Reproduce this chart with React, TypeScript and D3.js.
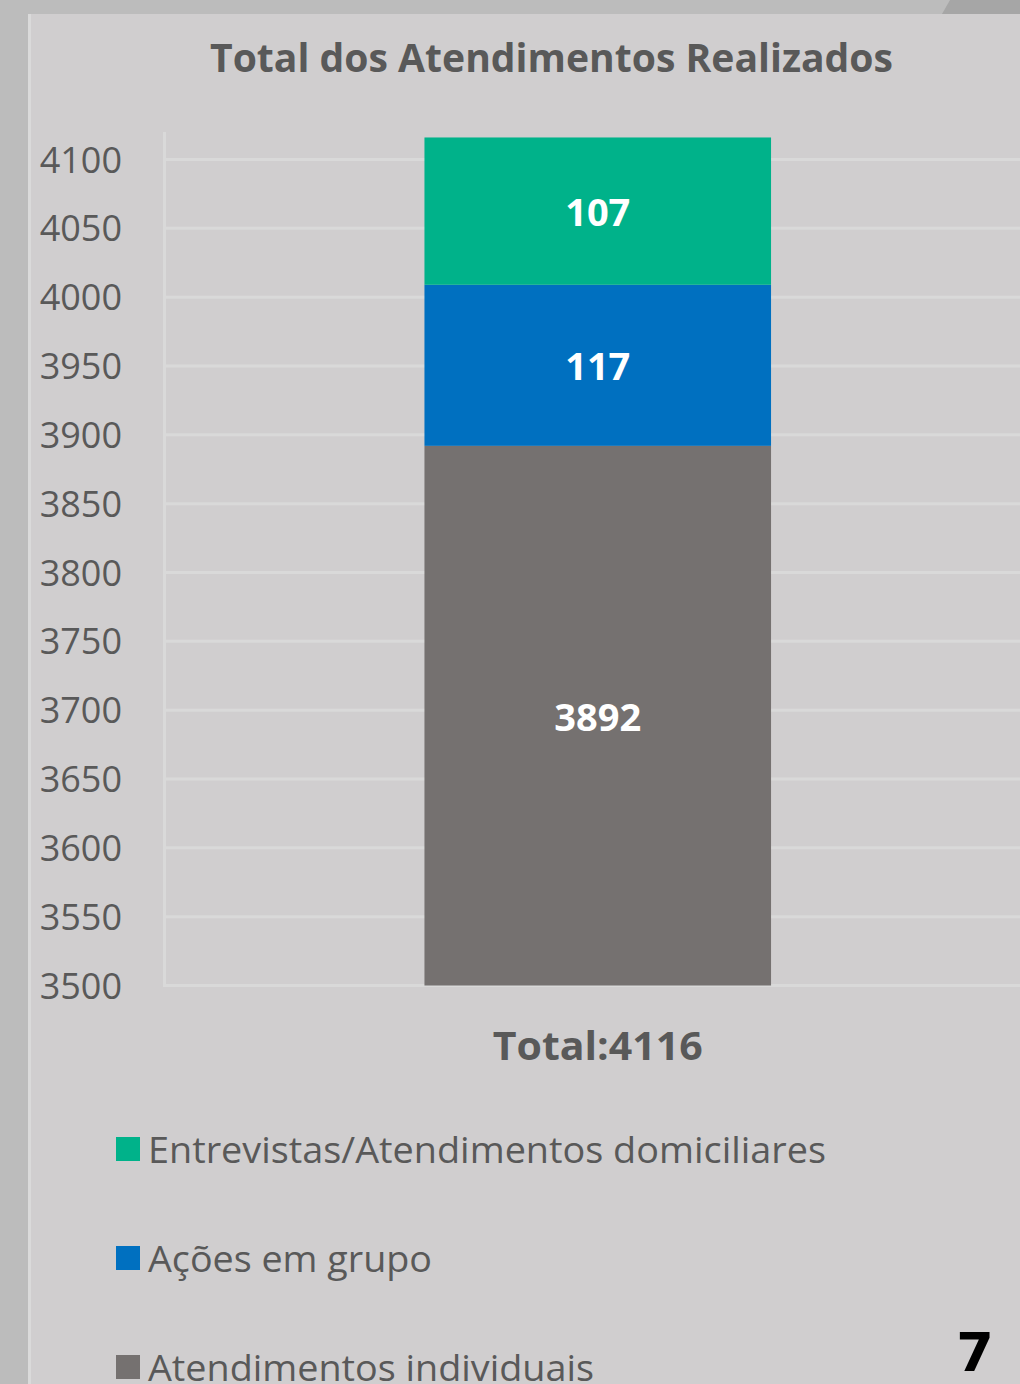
import React from "react";
import * as d3 from "d3";

const categories = ["Total:4116"];
const seriesNames = [
  "Atendimentos individuais",
  "Ações em grupo",
  "Entrevistas/Atendimentos domiciliares",
];
const seriesValues = [3892, 117, 107];
const seriesColors = ["#757170", "#0070c0", "#00b28a"];
const yDomain = [3500, 4100];

const W = 1020;
const H = 1384;
const plot = { left: 164.5, right: 1031, top: 132, bottom: 985.5 };
const textColor = "#595959";
const font = "'Open Sans', sans-serif";

// legend, drawn top to bottom in reverse stack order
const legendOrder = [2, 1, 0];
const legendWidths = [678, 284, 446];

const App = () => {
  const y = d3
    .scaleLinear()
    .domain(yDomain)
    .range([985.5, 159.5]);

  const x = d3
    .scaleBand()
    .domain(categories)
    .range([plot.left, plot.right])
    .padding(0.4286);

  const ticks = y.ticks(12);

  const stackData = [
    Object.fromEntries(seriesNames.map((n, i) => [n, seriesValues[i]])),
  ];
  const stacked = d3.stack().keys(seriesNames)(stackData as any);

  const bx = x(categories[0]) as number;
  const bw = x.bandwidth();

  return (
    <div style={{ position: "absolute", left: 0, top: 0 }}>
      <svg width={W} height={H} style={{ display: "block" }}>
        <rect x={0} y={0} width={W} height={H} fill="#bcbcbc" />
        <polygon points={`942,14 950,0 ${W},0 ${W},14`} fill="#a6a6a6" />
        <rect x={28} y={14} width={W - 28} height={H - 14} fill="#dadada" />
        <rect x={31} y={14} width={W - 31} height={H - 14} fill="#d0cecf" />

        <text
          x={551.5}
          y={72}
          textAnchor="middle"
          fontFamily={font}
          fontWeight={700}
          fontSize={40}
          fill={textColor}
          textLength={683}
          lengthAdjust="spacingAndGlyphs"
        >
          Total dos Atendimentos Realizados
        </text>

        {/* gridlines */}
        {ticks.map((t) => (
          <line
            key={t}
            x1={plot.left}
            x2={W}
            y1={y(t)}
            y2={y(t)}
            stroke="#d9d9d9"
            strokeWidth={3}
          />
        ))}
        <line
          x1={plot.left}
          x2={plot.left}
          y1={plot.top}
          y2={plot.bottom + 1.5}
          stroke="#d9d9d9"
          strokeWidth={3}
        />

        {/* y tick labels */}
        {ticks.map((t) => (
          <text
            key={"l" + t}
            x={122}
            y={y(t) + 13}
            textAnchor="end"
            fontFamily={font}
            fontSize={36}
            fill={textColor}
          >
            {t}
          </text>
        ))}

        {/* stacked bar, bottom cut at the axis minimum */}
        {stacked.map((s, i) => {
          const d = s[0];
          const y0 = y(Math.max(d[0], yDomain[0]));
          const y1 = y(d[1]);
          return (
            <g key={seriesNames[i]}>
              <rect
                x={bx}
                y={y1}
                width={bw}
                height={y0 - y1}
                fill={seriesColors[i]}
              />
              <text
                x={bx + bw / 2}
                y={(y0 + y1) / 2 + 15}
                textAnchor="middle"
                fontFamily={font}
                fontWeight={700}
                fontSize={38}
                fill="#ffffff"
              >
                {seriesValues[i]}
              </text>
            </g>
          );
        })}

        {/* category label */}
        <text
          x={bx + bw / 2}
          y={1060}
          textAnchor="middle"
          fontFamily={font}
          fontWeight={700}
          fontSize={39}
          fill={textColor}
          textLength={210}
          lengthAdjust="spacingAndGlyphs"
        >
          {categories[0]}
        </text>

        {/* legend */}
        {legendOrder.map((si, k) => {
          const ly = 1137 + k * 109;
          return (
            <g key={"lg" + si}>
              <rect x={116} y={ly} width={24} height={24} fill={seriesColors[si]} />
              <text
                x={148}
                y={ly + 26}
                fontFamily={font}
                fontSize={37}
                fill={textColor}
                textLength={legendWidths[k]}
                lengthAdjust="spacingAndGlyphs"
              >
                {seriesNames[si]}
              </text>
            </g>
          );
        })}

        <text
          x={975}
          y={1371}
          textAnchor="middle"
          fontFamily="'DejaVu Sans', sans-serif"
          fontWeight={900}
          fontSize={54}
          fill="#000000"
        >
          7
        </text>
      </svg>
    </div>
  );
};

export default App;
